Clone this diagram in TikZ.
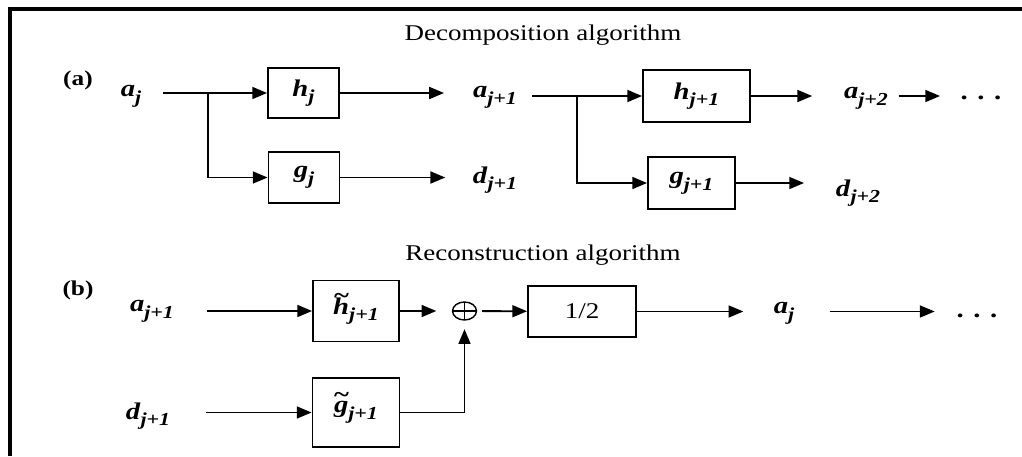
\documentclass[tikz,border=0pt]{standalone}
\usepackage{fontspec}
\setmainfont[FakeStretch=1.2]{Liberation Serif}
\usetikzlibrary{arrows.meta,shapes.geometric}

\newcommand{\sgl}[2]{\textbf{\textit{#1}}\raisebox{-0.28em}{\fontsize{13}{13}\selectfont\bfseries\itshape #2}}
\newcommand{\tld}[1]{\ooalign{#1\cr\hidewidth\raisebox{0.42em}{\~{}}\hidewidth\cr}}

\begin{document}
\begin{tikzpicture}[x=0.025cm,y=-0.025cm,line width=1.3pt,
  >={Triangle[length=10.5pt,width=8.5pt]},
  blk/.style={draw,inner sep=0pt,font=\fontsize{17}{20}\selectfont},
  lab/.style={inner sep=0pt,font=\fontsize{17}{20}\selectfont},
  ttl/.style={inner sep=0pt,font=\fontsize{16}{20}\selectfont}]
\useasboundingbox (0,0) rectangle (1022,456);
\draw[line width=2.2pt] (10,456) -- (10,9) -- (1022,9);

% decomposition
\node[ttl] (tDec) at (543,35) {Decomposition algorithm};
\node[lab,font=\fontsize{15}{16}\selectfont] (lA) at (78,80) {\textbf{(a)}};
\node[lab] (aj) at (131,96) {\sgl{a}{j}};
\node[blk,minimum width=1.775cm,minimum height=1.25cm] (hj) at (303.5,93) {\sgl{h}{j}};
\node[blk,minimum width=1.775cm,minimum height=1.275cm] (gj) at (304,177.5) {\sgl{g}{j}};
\coordinate (s1) at (208,93);
\node[lab] (aj1) at (495,97) {\sgl{a}{j+1}};
\node[lab] (dj1) at (495,180) {\sgl{d}{j+1}};
\coordinate (s2) at (577,96);
\node[blk,minimum width=2.675cm,minimum height=1.3cm] (hj1) at (696.5,96) {\sgl{h}{j+1}};
\node[blk,minimum width=2.175cm,minimum height=1.3cm] (gj1) at (691.5,183) {\sgl{g}{j+1}};
\node[lab] (aj2) at (866,98) {\sgl{a}{j+2}};
\node[lab] (dj2) at (858,193) {\sgl{d}{j+2}};
\node[lab] (dA) at (981,98) {\textbf{. . .}};

\draw[shorten <=15pt] (aj.east |- s1) -- (s1);
\draw[->] (s1) -- (hj);
\draw[->] (s1) |- (gj);
\draw[->,shorten >=20pt] (hj) -- (hj -| aj1.west);
\draw[->,shorten >=19pt] (gj) -- (gj -| dj1.west);
\draw[shorten <=10pt] (aj1.east |- s2) -- (s2);
\draw[->] (s2) -- (hj1);
\draw[->] (s2) |- (gj1);
\draw[->,shorten >=22pt] (hj1) -- (hj1 -| aj2.west);
\draw[->,shorten >=22pt] (gj1) -- (gj1 -| dj2.west);
\draw[->,shorten <=7pt,shorten >=14pt] (aj2.east |- hj1) -- (hj1 -| dA.west);

% reconstruction
\node[ttl] (tRec) at (543,255) {Reconstruction algorithm};
\node[lab,font=\fontsize{15}{16}\selectfont] (lB) at (78,290) {\textbf{(b)}};
\node[lab] (bA) at (152,311) {\sgl{a}{j+1}};
\node[lab] (bD) at (148,416) {\sgl{d}{j+1}};
\node[blk,minimum width=2.15cm,minimum height=1.525cm] (ht) at (356,311) {\sgl{\tld{h}}{j+1}};
\node[blk,minimum width=2.175cm,minimum height=1.725cm] (gt) at (356,412.5) {\sgl{\tld{g}}{j+1}};
\node[ellipse,draw,inner sep=0pt,minimum width=0.6cm,minimum height=0.45cm,line width=1pt,
  path picture={\draw[line width=1pt] (path picture bounding box.north) -- (path picture bounding box.south)
    (path picture bounding box.west) -- (path picture bounding box.east);}] (sum) at (464.5,311) {};
\node[blk,minimum width=2.7cm,minimum height=1.275cm,font=\fontsize{16}{20}\selectfont] (half) at (582,311.5) {1/2};
\node[lab] (bO) at (784,313) {\sgl{a}{j}};
\node[lab] (dB) at (977,316) {\textbf{. . .}};

\draw[->,shorten <=23pt] (bA.east |- ht) -- (ht);
\draw[->,shorten <=25pt] (bD.east |- gt) -- (gt);
\draw[->,shorten >=11pt] (ht) -- (sum);
\draw[->,shorten <=3.5pt] (sum) -- (half);
\draw[->,shorten >=6pt] (gt) -| (sum);
\draw[->,shorten >=21pt] (half) -- (half -| bO.west);
\draw[->,shorten <=25pt,shorten >=15pt] (bO.east |- half) -- (half -| dB.west);
\end{tikzpicture}
\end{document}
